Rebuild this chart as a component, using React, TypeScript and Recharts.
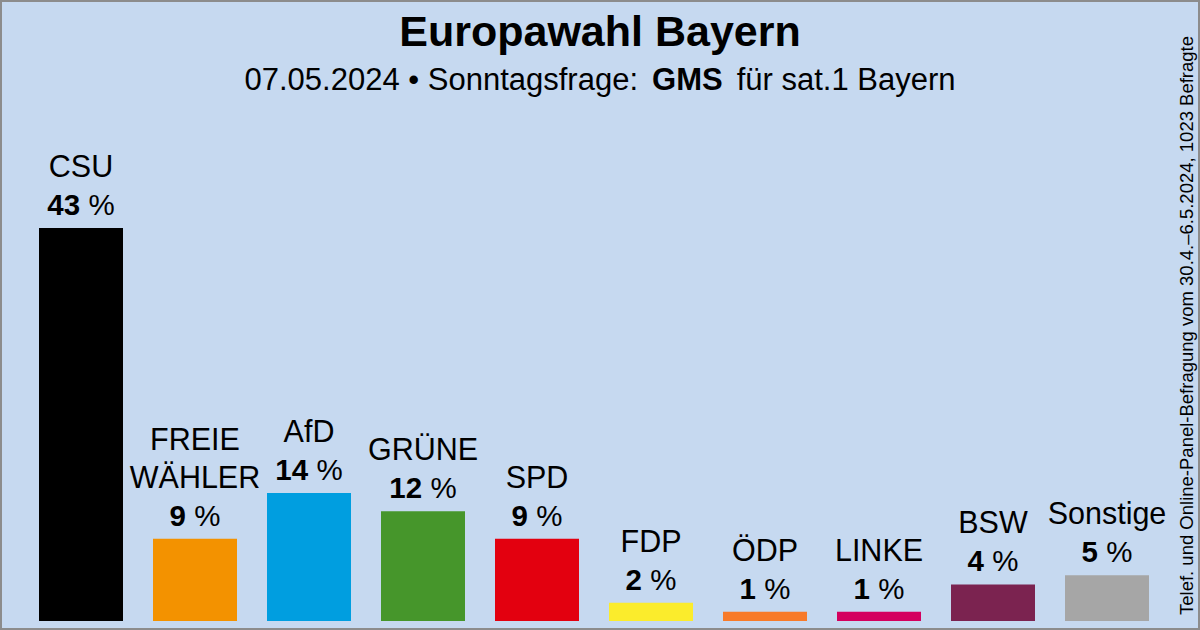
import React from 'react'
import { BarChart, Bar, XAxis, YAxis, Cell, LabelList } from 'recharts'

const parties = ['CSU', 'FREIE\nWÄHLER', 'AfD', 'GRÜNE', 'SPD', 'FDP', 'ÖDP', 'LINKE', 'BSW', 'Sonstige']
const shares = [43, 9, 14, 12, 9, 2, 1, 1, 4, 5]
const partyColors = ['#000000', '#f39200', '#009ee0', '#46962b', '#e3000f', '#fbec2c', '#f77a29', '#d4005e', '#7b2350', '#a6a6a6']

const FONT = '"Liberation Sans", Arial, Helvetica, sans-serif'

const data = parties.map((name, i) => ({ name, value: shares[i], color: partyColors[i] }))

// name lines + bold number above each bar
const renderLabel = (props: any) => {
  const { x, y, width, index, value } = props
  const cx = x + width / 2
  const lines = parties[index].split('\n')
  const base = y - 13
  return (
    <g>
      {lines.map((line, k) => (
        <text
          key={k}
          x={cx}
          y={base - 38 * (lines.length - k)}
          textAnchor="middle"
          fontFamily={FONT}
          fontSize={30.5}
          fill="#000"
        >
          {line}
        </text>
      ))}
      <text x={cx} y={base} textAnchor="middle" fontFamily={FONT} fontSize={29.5} fill="#000">
        <tspan fontWeight="bold">{value}</tspan>
        <tspan> %</tspan>
      </text>
    </g>
  )
}

export default function App() {
  return (
    <div style={{ position: 'absolute', left: 0, top: 0, width: 1200, height: 630, background: '#c6d9f0' }}>
      <div style={{ position: 'absolute', left: 0, top: 0 }}>
        <BarChart width={1200} height={630} data={data} margin={{ top: 164, right: 28, bottom: 9, left: 16 }}>
          <XAxis
            dataKey="name"
            tick={false}
            tickLine={false}
            axisLine={{ stroke: '#000', strokeWidth: 1.5 }}
            padding={{ left: 8, right: 8 }}
            height={0}
          />
          <YAxis hide domain={[0, 50]} />
          <Bar dataKey="value" barSize={84} isAnimationActive={false}>
            {data.map((entry, i) => (
              <Cell key={`cell-${i}`} fill={entry.color} />
            ))}
            <LabelList dataKey="value" content={renderLabel} />
          </Bar>
        </BarChart>
      </div>
      <svg width={1200} height={630} style={{ position: 'absolute', left: 0, top: 0, pointerEvents: 'none' }}>
        <text x={600} y={46} textAnchor="middle" fontFamily={FONT} fontSize={43} fontWeight="bold" fill="#000">
          Europawahl Bayern
        </text>
        <text x={600} y={90} textAnchor="middle" fontFamily={FONT} fontSize={31} fill="#000">
          <tspan>07.05.2024 • Sonntagsfrage:</tspan>
          <tspan dx={14} fontWeight="bold">GMS</tspan>
          <tspan dx={14}>für sat.1 Bayern</tspan>
        </text>
        <text
          transform="translate(1193, 615) rotate(-90)"
          x={0}
          y={0}
          fontFamily={FONT}
          fontSize={18.5}
          fill="#000"
        >
          Telef. und Online-Panel-Befragung vom 30.4.–6.5.2024, 1023 Befragte
        </text>
        <rect x={1} y={1} width={1198} height={628} fill="none" stroke="#8c8c8c" strokeWidth={2} />
      </svg>
    </div>
  )
}
